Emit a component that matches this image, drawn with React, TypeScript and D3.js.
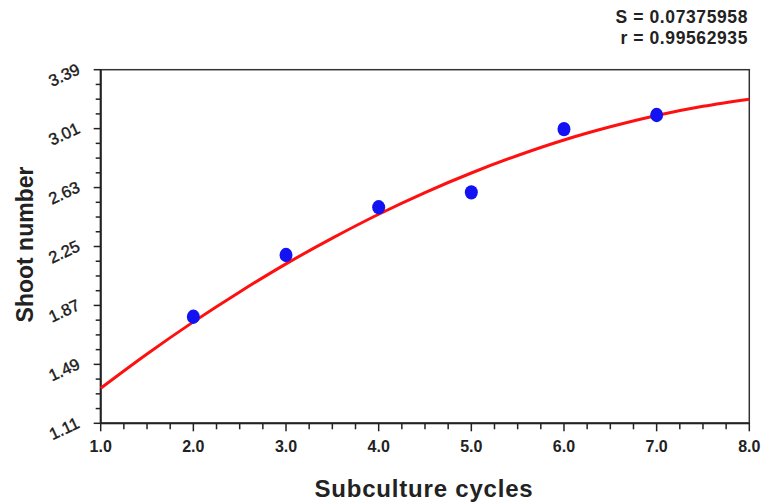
import React from "react";
import * as d3 from "d3";

const cycles = [2, 3, 4, 5, 6, 7];
const shoots = [1.797, 2.195, 2.503, 2.599, 3.007, 3.098];

const fitX = [1, 1.5, 2, 2.5, 3, 3.5, 4, 4.5, 5, 5.5, 6, 6.5, 7, 7.5, 8];
const fitY = [1.336, 1.557, 1.764, 1.957, 2.138, 2.304, 2.458, 2.598, 2.724, 2.837, 2.937, 3.022, 3.095, 3.154, 3.2];

const xTicks = [1, 2, 3, 4, 5, 6, 7, 8];
const yTicks = [1.11, 1.49, 1.87, 2.25, 2.63, 3.01, 3.39];
const statLines = ["S = 0.07375958", "r = 0.99562935"];

const W = 764, H = 503;
const L = 100.7, R = 749.3, T = 69.7, B = 423.3;

export default function App() {
  const x = d3.scaleLinear().domain([1, 8]).range([L, R]);
  const y = d3.scaleLinear().domain([1.11, 3.39]).range([B, T]);
  const line = d3.line<number>().x((_, i) => x(fitX[i])).y((d) => y(d)).curve(d3.curveCatmullRom);
  const xMinor = d3.range(1, 8.001, 0.25).filter((v) => Math.abs(v - Math.round(v)) > 0.01);
  const yMinor = d3.range(0, 24).map((i) => 1.11 + i * 0.095).filter((_, i) => i % 4 !== 0);
  const font = "'Liberation Sans', Arial, sans-serif";
  const axisCol = "#222";
  return (
    <svg width={W} height={H} style={{ position: "absolute", left: 0, top: 0, background: "#fff" }} fontFamily={font}>
      <rect x={0} y={0} width={W} height={H} fill="#fff" />
      {/* frame */}
      <rect x={L} y={T} width={R - L} height={B - T} fill="none" stroke="#333" strokeWidth={1.5} />
      <line x1={L} x2={L} y1={T} y2={B} stroke={axisCol} strokeWidth={2} />
      <line x1={L} x2={R} y1={B} y2={B} stroke={axisCol} strokeWidth={2} />
      {/* x ticks */}
      {xTicks.map((t) => (
        <g key={"xt" + t}>
          <line x1={x(t)} x2={x(t)} y1={B} y2={B + 8} stroke={axisCol} strokeWidth={1.5} />
          <text x={x(t)} y={452} textAnchor="middle" fontSize={16} fontWeight="bold" fill="#222">
            {t.toFixed(1)}
          </text>
        </g>
      ))}
      {xMinor.map((t) => (
        <line key={"xm" + t} x1={x(t)} x2={x(t)} y1={B} y2={B + 6} stroke={axisCol} strokeWidth={1.5} />
      ))}
      {/* y ticks */}
      {yTicks.map((t) => (
        <g key={"yt" + t}>
          <line x1={L - 7} x2={L} y1={y(t)} y2={y(t)} stroke={axisCol} strokeWidth={1.5} />
          <text
            transform={`translate(64,${y(t) + 5}) rotate(-25)`}
            textAnchor="middle"
            dominantBaseline="central"
            fontSize={16.5}
            fill="#1a1a1a"
            stroke="#1a1a1a"
            strokeWidth={0.4}
          >
            {t.toFixed(2)}
          </text>
        </g>
      ))}
      {yMinor.map((t) => (
        <line key={"ym" + t} x1={L - 5} x2={L} y1={y(t)} y2={y(t)} stroke={axisCol} strokeWidth={1.5} />
      ))}
      {/* fitted curve */}
      <path d={line(fitY) || ""} fill="none" stroke="#ff1010" strokeWidth={3} />
      {/* points */}
      {cycles.map((c, i) => (
        <ellipse key={"p" + c} cx={x(c)} cy={y(shoots[i])} rx={6.5} ry={7.2} fill="#1212f2" />
      ))}
      {/* titles */}
      <text x={(L + R) / 2 - 1} y={497} textAnchor="middle" fontSize={24} fontWeight="bold" fill="#222" letterSpacing={0.8}>
        Subculture cycles
      </text>
      <text transform={`translate(33,${(T + B) / 2 - 2}) rotate(-90)`} textAnchor="middle" fontSize={23} fontWeight="bold" fill="#222">
        Shoot number
      </text>
      {statLines.map((s, i) => (
        <text key={s} x={748} y={23 + i * 20.5} textAnchor="end" fontSize={17.5} fontWeight="bold" fill="#222" letterSpacing={0.6}>
          {s}
        </text>
      ))}
    </svg>
  );
}
